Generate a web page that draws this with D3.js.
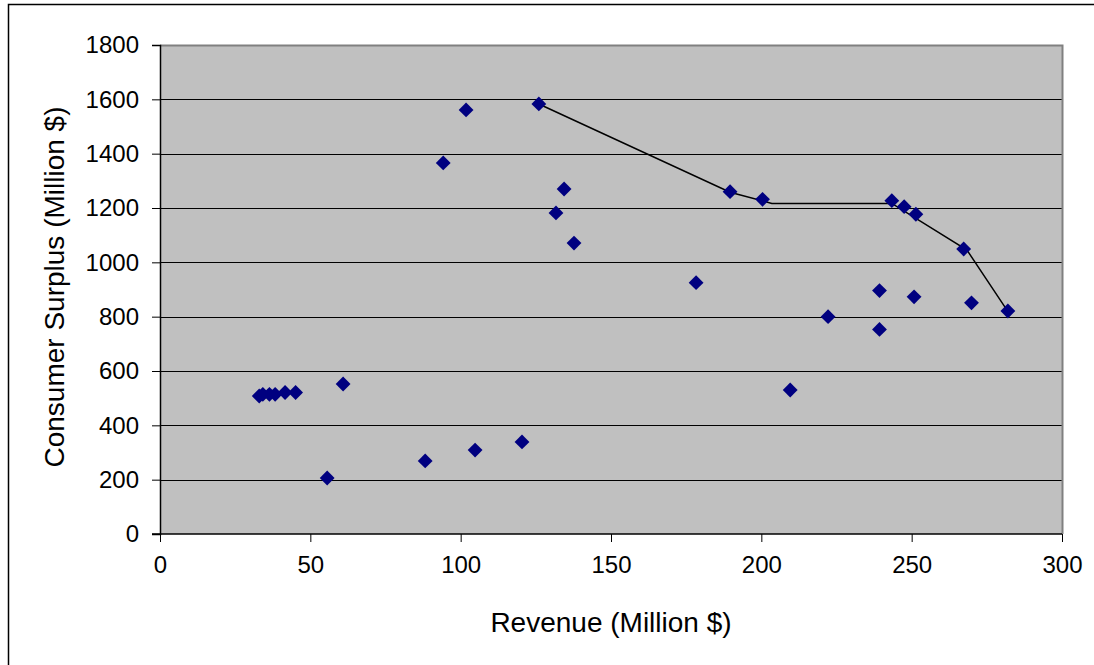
<!DOCTYPE html>
<html>
<head>
<meta charset="utf-8">
<script src="https://cdn.jsdelivr.net/npm/d3@7"></script>
<style>
  body { margin: 0; background: #fff; }
  text { font-family: "Liberation Sans", Arial, sans-serif; fill: #000; }
</style>
</head>
<body>
<svg id="chart" width="1094" height="665"></svg>
<script>
// Revenue (x) and consumer surplus (y) for each alternative
var revenue = [33, 34.2, 36.4, 38.3, 41.6, 45.1, 60.9, 55.6, 88.2, 104.8, 120.4,
  94.2, 101.8, 126, 134.4, 131.7, 137.7, 178.3, 189.6, 200.4, 243.4, 247.5,
  251.4, 267.3, 239.3, 250.8, 269.9, 282, 222.2, 239.3, 209.6];
var surplus = [508, 514, 514, 514, 521, 521, 552, 206, 269, 309, 339,
  1366, 1561, 1583, 1270, 1182, 1071, 925, 1260, 1232, 1227, 1205,
  1177, 1049, 896, 873, 851, 821, 800, 753, 530];

// frontier line
var frontierRevenue = [126, 189.6, 203.5, 243.4, 268.4, 281.7];
var frontierSurplus = [1583, 1258, 1217, 1217, 1045, 824];

var xTicks = [0, 50, 100, 150, 200, 250, 300];
var yTicks = [0, 200, 400, 600, 800, 1000, 1200, 1400, 1600, 1800];

var svg = d3.select('#chart');
var plotLeft = 160, plotRight = 1062, plotTop = 45, plotBottom = 534;

var x = d3.scaleLinear().domain([0, 300]).range([plotLeft, plotRight]);
var y = d3.scaleLinear().domain([0, 1800]).range([plotBottom, plotTop]);

// outer chart border
svg.append('rect')
  .attr('x', 8.5).attr('y', 4.5)
  .attr('width', 1100).attr('height', 700)
  .attr('fill', '#fff').attr('stroke', '#000').attr('stroke-width', 1.5);

// plot area
svg.append('rect')
  .attr('x', plotLeft).attr('y', plotTop)
  .attr('width', plotRight - plotLeft).attr('height', plotBottom - plotTop)
  .attr('fill', '#c0c0c0');

// gridlines
svg.append('g').selectAll('line')
  .data(yTicks.slice(1, -1))
  .enter().append('line')
  .attr('x1', plotLeft).attr('x2', plotRight)
  .attr('y1', function(d) { return Math.round(y(d)) + 0.5; })
  .attr('y2', function(d) { return Math.round(y(d)) + 0.5; })
  .attr('stroke', '#000').attr('stroke-width', 1);

// plot border (grey)
svg.append('path')
  .attr('d', 'M' + plotLeft + ',' + (plotTop + 0.5) + 'H' + (plotRight + 0.5) + 'V' + plotBottom)
  .attr('fill', 'none').attr('stroke', '#808080').attr('stroke-width', 2);

// axes
var xAxis = d3.axisBottom(x).tickValues(xTicks).tickFormat(d3.format('d')).tickSize(8).tickPadding(14);
var yAxis = d3.axisLeft(y).tickValues(yTicks).tickFormat(d3.format('d')).tickSize(8).tickPadding(13);

var gx = svg.append('g').attr('transform', 'translate(0,' + plotBottom + ')').call(xAxis);
var gy = svg.append('g').attr('transform', 'translate(' + plotLeft + ',0)').call(yAxis);

[gx, gy].forEach(function(g) {
  g.select('.domain').attr('stroke', '#000').attr('stroke-width', 1.5);
  g.selectAll('.tick line').attr('stroke', '#000');
  g.selectAll('.tick text')
    .style('font-family', '"Liberation Sans", Arial, sans-serif')
    .style('font-size', '24px').attr('fill', '#000');
});
gx.select('.domain').attr('d', 'M' + (plotLeft - 8) + ',0H' + plotRight);

// frontier line
var line = d3.line()
  .x(function(d, i) { return x(frontierRevenue[i]); })
  .y(function(d, i) { return y(frontierSurplus[i]); });

svg.append('path')
  .datum(frontierRevenue)
  .attr('d', line)
  .attr('fill', 'none').attr('stroke', '#000').attr('stroke-width', 1.5);

// diamond markers
var diamond = d3.symbol().type(d3.symbolSquare).size(110);
svg.append('g').selectAll('path')
  .data(revenue)
  .enter().append('path')
  .attr('d', diamond)
  .attr('transform', function(d, i) {
    return 'translate(' + x(d) + ',' + y(surplus[i]) + ') rotate(45)';
  })
  .attr('fill', '#000080');

// axis titles
svg.append('text')
  .attr('x', 611).attr('y', 632)
  .attr('text-anchor', 'middle')
  .style('font-size', '28px')
  .text('Revenue (Million $)');

svg.append('text')
  .attr('transform', 'translate(64,287) rotate(-90)')
  .attr('text-anchor', 'middle')
  .style('font-size', '28px')
  .text('Consumer Surplus (Million $)');
</script>
</body>
</html>
